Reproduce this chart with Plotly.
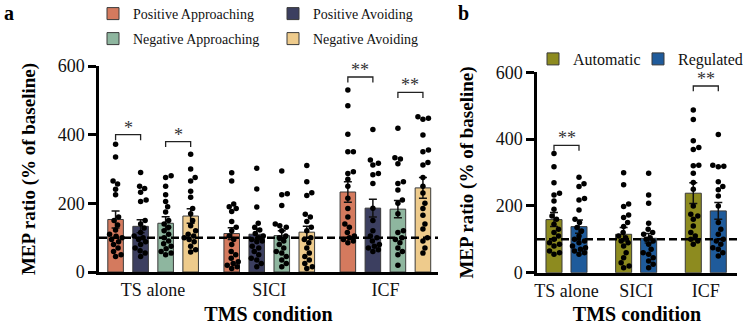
import plotly.graph_objects as go

# ---------------- data ----------------
conditions = ["TS alone", "SICI", "ICF"]

series_a = ["Positive Approaching", "Positive Avoiding", "Negative Approaching", "Negative Avoiding"]
colors_a = ["#D47A5E", "#3C3F60", "#8EB69F", "#EECB8C"]
means_a = [
    [153, 112, 233],   # Positive Approaching
    [133, 110, 186],   # Positive Avoiding
    [142, 106, 183],   # Negative Approaching
    [163, 116, 245],   # Negative Avoiding
]
sems_a = [
    [25, 17, 30],
    [19, 15, 26],
    [19, 14, 25],
    [21, 17, 30],
]
dots_a = [
    [  # Positive Approaching
        [372, 335, 265, 256, 241, 225, 160, 150, 137, 122, 110, 104, 100, 95, 88, 80, 70, 60, 50, 45],
        [289, 265, 198, 190, 185, 176, 147, 130, 120, 105, 95, 80, 60, 50, 40, 30, 25, 20, 15, 10],
        [530, 484, 401, 350, 350, 292, 287, 270, 250, 215, 185, 160, 140, 130, 115, 105, 100, 95, 90, 85],
    ],
    [  # Positive Avoiding
        [290, 250, 243, 232, 210, 205, 150, 140, 128, 115, 105, 100, 95, 88, 80, 70, 62, 55, 45],
        [302, 242, 189, 142, 130, 122, 112, 105, 100, 95, 90, 88, 75, 70, 60, 50, 40, 35, 25, 15],
        [415, 326, 317, 312, 287, 283, 258, 186, 150, 120, 105, 100, 90, 80, 75, 70, 65, 60],
    ],
    [  # Negative Approaching
        [280, 275, 250, 225, 205, 190, 175, 150, 140, 130, 120, 110, 100, 90, 82, 75, 68, 60, 55, 50],
        [294, 228, 225, 194, 140, 135, 130, 120, 105, 100, 90, 80, 70, 60, 55, 45, 35, 25, 15],
        [419, 333, 329, 315, 263, 258, 239, 210, 200, 170, 120, 115, 100, 95, 85, 70, 60, 50, 20],
    ],
    [  # Negative Avoiding
        [343, 300, 275, 265, 235, 218, 185, 170, 150, 135, 120, 110, 105, 100, 95, 88, 75, 65, 58],
        [310, 263, 231, 223, 168, 160, 147, 130, 120, 100, 95, 85, 70, 55, 45, 35, 25, 15, 10],
        [452, 448, 445, 399, 355, 350, 319, 312, 275, 250, 230, 200, 185, 165, 140, 125, 100, 90, 70, 55],
    ],
]
brackets_a = [  # (condition index, bar i, bar j, height, label)
    (0, 0, 1, 400, "*"),
    (0, 2, 3, 380, "*"),
    (2, 0, 1, 568, "**"),
    (2, 2, 3, 523, "**"),
]

series_b = ["Automatic", "Regulated"]
colors_b = ["#8D8B1F", "#1F5B9B"]
means_b = [
    [159, 115, 238],
    [138, 103, 185],
]
sems_b = [
    [21, 20, 31],
    [20, 14, 25],
]
dots_b = [
    [
        [357, 317, 269, 238, 233, 215, 190, 170, 160, 145, 130, 120, 110, 100, 90, 85, 80, 65, 60, 55],
        [299, 263, 206, 198, 173, 165, 150, 138, 120, 110, 105, 95, 90, 80, 60, 45, 30, 20, 15],
        [487, 459, 395, 375, 369, 322, 320, 298, 270, 250, 200, 175, 170, 160, 140, 120, 110, 100, 95, 85],
    ],
    [
        [286, 266, 258, 222, 218, 188, 160, 150, 135, 125, 110, 100, 95, 90, 80, 75, 70, 65, 60, 55],
        [298, 233, 208, 148, 130, 120, 115, 105, 100, 95, 85, 70, 60, 55, 45, 35, 25, 15],
        [414, 322, 319, 317, 272, 258, 248, 230, 200, 150, 130, 115, 100, 95, 85, 75, 70, 60, 50],
    ],
]
brackets_b = [
    (0, 0, 1, 381, "**"),
    (2, 0, 1, 559, "**"),
]

# ---------------- layout constants ----------------
W, H = 745, 325
FONT = "Liberation Serif, Times New Roman, serif"

dom_xa = [99 / W, 438 / W]
rng_xa = [-0.466, 2.453]
dom_ya = [(H - 272) / H, (H - 66) / H]
dom_xb = [537 / W, 737 / W]
rng_xb = [-0.4235, 2.448]
dom_yb = [(H - 272.7) / H, (H - 72.3) / H]

slot_a, bw_a = 0.2155, 0.134
slot_b, bw_b = 0.359, 0.23


def px_per_unit(dom, rng, total):
    return (dom[1] - dom[0]) * total / (rng[1] - rng[0])


def swarm(vals, pxx, pxy, dot=5.4, maxoff=6.5):
    order = sorted(range(len(vals)), key=lambda i: vals[i])
    placed = []
    offs = [0.0] * len(vals)
    cands = [0.0]
    k = 1
    while k * 0.5 <= maxoff:
        cands += [k * 0.5, -k * 0.5]
        k += 1
    for i in order:
        y = vals[i] * pxy
        best, bestd = 0.0, -1
        chosen = None
        for c in cands:
            dmin = min([((c - px) ** 2 + (y - py) ** 2) ** 0.5 for px, py in placed] or [99])
            if dmin >= dot:
                chosen = c
                break
            if dmin > bestd:
                bestd, best = dmin, c
        if chosen is None:
            chosen = best
        placed.append((chosen, y))
        offs[i] = chosen / pxx
    return offs


fig = go.Figure()


def add_panel(series, colors, means, sems, dots, slot, bw, xa, ya, legend, dom_x, rng_x, dom_y):
    n = len(series)
    pxx = px_per_unit(dom_x, rng_x, W)
    pxy = (dom_y[1] - dom_y[0]) * H / 600
    for s in range(n):
        off = (s - (n - 1) / 2) * slot
        xs = [g + off for g in range(len(conditions))]
        fig.add_trace(go.Bar(
            x=xs, y=means[s], width=bw, name=series[s],
            marker=dict(color=colors[s], line=dict(color="#3a3a3a", width=1)),
            error_y=dict(type="data", array=sems[s], color="#111", thickness=1.5, width=4),
            xaxis=xa, yaxis=ya, legend=legend, showlegend=True,
        ))
    for s in range(n):
        off = (s - (n - 1) / 2) * slot
        for g in range(len(conditions)):
            v = dots[s][g]
            jit = swarm(v, pxx, pxy)
            fig.add_trace(go.Scatter(
                x=[g + off + j for j in jit], y=v, mode="markers",
                marker=dict(color="black", size=5.5),
                xaxis=xa, yaxis=ya, showlegend=False, cliponaxis=False, hoverinfo="y",
            ))


add_panel(series_a, colors_a, means_a, sems_a, dots_a, slot_a, bw_a, "x", "y", "legend",
          dom_xa, rng_xa, dom_ya)
add_panel(series_b, colors_b, means_b, sems_b, dots_b, slot_b, bw_b, "x2", "y2", "legend3",
          dom_xb, rng_xb, dom_yb)

# second legend row for panel a
for t in fig.data:
    if t.name in ("Negative Approaching", "Negative Avoiding"):
        t.legend = "legend2"


def add_brackets(brackets, n, slot, xref, yref, tick):
    for g, i, j, h, lab in brackets:
        x1 = g + (i - (n - 1) / 2) * slot
        x2 = g + (j - (n - 1) / 2) * slot
        fig.add_shape(type="path",
                      path=f"M {x1} {h - tick} L {x1} {h} L {x2} {h} L {x2} {h - tick}",
                      xref=xref, yref=yref, line=dict(color="#222", width=1.3))
        fig.add_annotation(x=(x1 + x2) / 2, y=h, xref=xref, yref=yref, text=lab,
                           showarrow=False, yanchor="bottom", yshift=-5,
                           font=dict(family=FONT, size=18, color="#333"))


add_brackets(brackets_a, 4, slot_a, "x", "y", 16)
add_brackets(brackets_b, 2, slot_b, "x2", "y2", 16)

# dashed baseline at 100 %
for xr, yr in (("x domain", "y"), ("x2 domain", "y2")):
    fig.add_shape(type="line", xref=xr, yref=yr, x0=0, x1=1, y0=100, y1=100,
                  line=dict(color="black", width=2.5, dash="8px,4px"))

axis_common = dict(showline=True, linecolor="black", linewidth=2.5, showgrid=False, zeroline=False,
                   tickfont=dict(family=FONT, size=18, color="#111"))
title_font = dict(family=FONT, size=20, color="black")

fig.update_layout(
    width=W, height=H, margin=dict(l=0, r=0, t=0, b=0, autoexpand=False),
    plot_bgcolor="white", paper_bgcolor="white", barmode="overlay",
    font=dict(family=FONT, color="#111"),
    xaxis=dict(domain=dom_xa, range=rng_xa, anchor="y", tickvals=[0, 1, 2], ticktext=conditions,
               ticks="",
               title=dict(text="<b>TMS condition</b>", font=title_font, standoff=14),
               **axis_common),
    yaxis=dict(domain=dom_ya, range=[0, 600], anchor="x", tickvals=[0, 200, 400, 600], ticks="outside",
               ticklen=8, tickwidth=2.5, tickcolor="black",
               title=dict(text="<b>MEP ratio (% of baseline)</b>", font=dict(family=FONT, size=19, color="black"),
                          standoff=18),
               **axis_common),
    xaxis2=dict(domain=dom_xb, range=rng_xb, anchor="y2", tickvals=[0, 1, 2], ticktext=conditions,
                ticks="",
                title=dict(text="<b>TMS condition</b>", font=title_font, standoff=14),
                **axis_common),
    yaxis2=dict(domain=dom_yb, range=[0, 600], anchor="x2", tickvals=[0, 200, 400, 600], ticks="outside",
                ticklen=8, tickwidth=2.5, tickcolor="black",
                title=dict(text="<b>MEP ratio (% of baseline)</b>", font=dict(family=FONT, size=19, color="black"),
                           standoff=18),
                **axis_common),
    legend=dict(orientation="h", x=93 / W, y=(H - 14) / H, xanchor="left", yanchor="middle",
                entrywidth=135, entrywidthmode="pixels", bgcolor="rgba(0,0,0,0)",
                font=dict(family=FONT, size=14, color="#111")),
    legend2=dict(orientation="h", x=93 / W, y=(H - 39) / H, xanchor="left", yanchor="middle",
                 entrywidth=135, entrywidthmode="pixels", bgcolor="rgba(0,0,0,0)",
                 font=dict(family=FONT, size=14, color="#111")),
    legend3=dict(orientation="h", x=533 / W, y=(H - 59) / H, xanchor="left", yanchor="middle",
                 entrywidth=60, entrywidthmode="pixels", bgcolor="rgba(0,0,0,0)",
                 font=dict(family=FONT, size=16, color="#111")),
)

fig.add_annotation(x=2 / W, y=1, xref="paper", yref="paper", text="<b>a</b>", showarrow=False,
                   xanchor="left", yanchor="top", font=dict(family=FONT, size=20, color="black"))
fig.add_annotation(x=456 / W, y=1, xref="paper", yref="paper", text="<b>b</b>", showarrow=False,
                   xanchor="left", yanchor="top", font=dict(family=FONT, size=20, color="black"))

fig.write_html("out.html")
